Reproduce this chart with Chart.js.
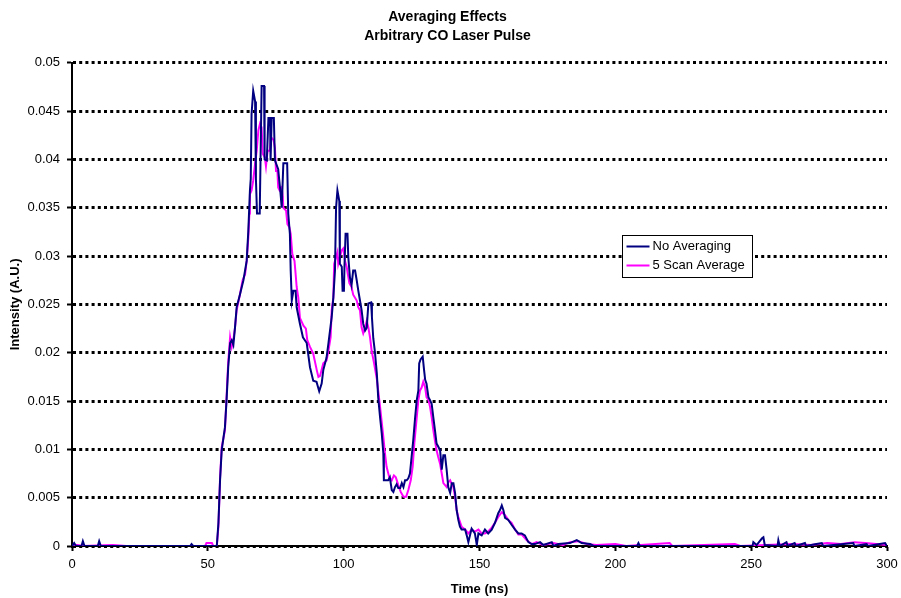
<!DOCTYPE html>
<html>
<head>
<meta charset="utf-8">
<title>Averaging Effects</title>
<script src="https://cdn.jsdelivr.net/npm/chart.js@4.4.1/dist/chart.umd.min.js"></script>
<style>
    html, body { margin: 0; padding: 0; background: #ffffff; }
    #wrap { position: relative; width: 901px; height: 598px; }
</style>
</head>
<body>
<div id="wrap"><canvas id="pulseChart" width="901" height="598"></canvas></div>
<script>
// Single scan, time (ns) and intensity (A.U.)
const rawTime = [
    0, 0.8, 1.5, 3.5, 4, 4.6, 9.5, 10, 10.6, 43.5, 44, 44.6, 53.3,
    53.9, 54.5, 55.1, 56.3, 56.9, 57.5, 58.2, 58.8, 59.4, 60, 60.6, 61.8, 63.1, 64.3, 64.9, 65.5, 65.8,
    66.1, 66.7, 67.4, 67.7, 68.1, 69.1, 69.4, 69.8, 70.7, 70.9, 71.7, 72.3, 72.9, 73.1, 73.5, 74.3,
    74.7, 75.9, 76.3, 76.6, 77.2, 77.8, 79.2, 79.6, 80.2, 80.5, 80.9, 81.5, 82.3, 82.7, 83.9, 85,
    86.4, 87.6, 88.8, 90, 91, 91.9, 92.5, 93.7, 94.4, 95.6, 96.2, 96.8, 97.2, 97.7, 98.4, 98.6,
    99.3, 99.6, 100.1, 100.3, 100.7, 101.4, 101.7, 102.3, 102.9, 103.5, 104.2, 104.8, 105.4, 106,
    106.6, 107.2, 107.9, 108.5, 109.1, 110.1, 110.4, 110.9, 111.5, 112.2, 112.7, 113.4, 114, 114.6,
    114.8, 116.4, 117, 117.7, 118.3, 118.9, 119.5, 120.1, 120.8, 121.4, 122, 122.6, 123.2, 123.8,
    124.4, 125, 125.6, 126.3, 126.9, 127.5, 127.8, 128.3, 129.1, 129.6, 130, 130.5, 131.2, 131.8,
    132.4, 133, 133.6, 134.2, 134.8, 135.5, 136.1, 136.7, 137.3, 137.9, 138.5, 139.2, 139.8, 140.4,
    141, 141.6, 142.2, 142.8, 143.4, 144.7, 145.3, 145.9, 146.5, 147.1, 148.3, 149, 149.6, 150.8,
    152, 153.2, 154.5, 155.7, 156.9, 157.5, 158.2, 158.8, 159.4, 160.6, 161.8, 163.1, 164.3, 165.5,
    166.7, 168, 169.2, 170.4, 172.3, 173.5, 176.6, 177.2, 179, 183.3, 185.8, 187.6, 190.7, 192,
    208, 208.5, 209, 250.5, 250.8, 252, 254, 254.5, 255, 259.7, 260, 260.5, 263, 263.5, 266, 266.5,
    269.8, 270.2, 274, 276, 276.5, 287.6, 288, 292.5, 293, 299.3, 300
];
const rawIntensity = [
    0, 0.0003, 0, 0, 0.0005, 0, 0, 0.0005, 0, 0, 0.0002, 0, 0,
    0.0024, 0.0068, 0.0099, 0.0123, 0.0151, 0.0185, 0.021, 0.0213, 0.0208, 0.0226, 0.0247, 0.026, 0.0275, 0.0295, 0.0326, 0.0368, 0.038,
    0.0447, 0.0471, 0.046, 0.038, 0.0344, 0.0344, 0.040, 0.0476, 0.0476, 0.040, 0.0399, 0.0443, 0.0443, 0.0399, 0.0443, 0.0443,
    0.0399, 0.039, 0.0378, 0.037, 0.035, 0.0396, 0.0396, 0.0344, 0.0323, 0.0285, 0.0254, 0.0264, 0.0264, 0.0247, 0.023, 0.0216,
    0.021, 0.0185, 0.0171, 0.017, 0.016, 0.0168, 0.0182, 0.0195, 0.021, 0.0237, 0.0257, 0.0285, 0.035, 0.0368, 0.0357, 0.0292,
    0.0289, 0.0264, 0.0264, 0.029, 0.0323, 0.0323, 0.0299, 0.0278, 0.027, 0.0285, 0.0285, 0.0275, 0.0264, 0.0254,
    0.0244, 0.023, 0.0223, 0.0226, 0.0251, 0.0252, 0.0237, 0.0215, 0.0201, 0.0179, 0.0154, 0.0133, 0.0117, 0.0096,
    0.0068, 0.0068, 0.0071, 0.0058, 0.0056, 0.0061, 0.0064, 0.006, 0.006, 0.0065, 0.0061, 0.0068, 0.0068, 0.007,
    0.0075, 0.0092, 0.0109, 0.0133, 0.0151, 0.0161, 0.0189, 0.0193, 0.0196, 0.0182, 0.0172, 0.0168, 0.0154, 0.0151,
    0.0147, 0.0133, 0.012, 0.0106, 0.0103, 0.0099, 0.0079, 0.0094, 0.0094, 0.0079, 0.0061, 0.0055, 0.0065, 0.0065,
    0.0055, 0.0037, 0.0027, 0.002, 0.0017, 0.0017, 0.0011, 0.0004, 0.0011, 0.0018, 0.0013, 0.0001, 0.0013, 0.0011,
    0.0017, 0.0013, 0.0017, 0.0024, 0.0034, 0.0037, 0.0042, 0.0037, 0.0029, 0.0027, 0.0022, 0.0017, 0.0013, 0.0013,
    0.0011, 0.0004, 0.0002, 0.0002, 0.0004, 0.0001, 0.0004, 0, 0.0002, 0.0003, 0.0006, 0.0003, 0.0002, 0,
    0, 0.0003, 0, 0, 0.0004, 0.0001, 0.0008, 0.0009, 0.0001, 0, 0.0006, 0, 0.0004, 0, 0.0003, 0,
    0.0003, 0, 0.0002, 0.0003, 0, 0.0003, 0, 0.0002, 0, 0.0003, 0
];

// Five scan average
const avgTime = [
    0, 2, 4, 15, 20, 49, 49.5, 51.5, 52, 53.3,
    53.9, 54.5, 55.1, 56.3, 56.9, 57.5, 58.2, 58.8, 59.4, 60, 60.6, 61.8, 62.8, 63.7, 64.3, 64.9, 65.3,
    65.5, 66.1, 66.7, 67.4, 68, 68.6, 69.2, 69.8, 70.2, 71, 71.4, 72, 72.8, 73.3, 74.2, 74.7, 75.1,
    75.6, 75.9, 76.4, 77.2, 77.6, 77.8, 78.8, 79.3, 80, 80.5, 81.1, 81.9, 82.3, 82.7, 83.3, 83.9,
    85.2, 86.1, 86.6, 87.6, 88.8, 90.1, 90.7, 91.3, 92.5, 93.7, 94.4, 95.2, 95.6, 96.2, 96.5, 97.2,
    97.7, 98, 98.6, 99.3, 99.9, 100.5, 101.1, 101.5, 102.1, 102.9, 103.5, 104.8, 105.4, 106, 106.6,
    107.2, 107.9, 108.5, 109.1, 109.7, 110.3, 111.2, 112.2, 113.4, 114.6, 115.2, 115.8, 116.8, 117.7,
    118.5, 119.2, 120.1, 121, 122, 123, 123.8, 124.7, 125.4, 126, 126.9, 127.5, 128.1, 128.7, 129.3,
    130, 130.5, 131.2, 131.8, 132.4, 133, 133.6, 134.2, 134.8, 135.5, 136.1, 136.7, 137.9, 138.5,
    139.2, 139.8, 140.4, 141, 141.6, 142.2, 142.8, 143.4, 144.7, 145.9, 147.1, 148.3, 149.6, 150.8,
    152, 153.2, 154.5, 155.7, 156.9, 158.2, 159.4, 160.6, 161.8, 163.1, 164.3, 165.5, 167.4, 169.2,
    171, 173.4, 177.1, 180.8, 183.3, 186.4, 189.5, 193, 200, 204, 220, 221, 244, 246, 265, 272,
    278, 283, 288, 292, 296, 300
];
const avgIntensity = [
    0.0001, 0.0001, 0, 0.0001, 0, 0, 0.0003, 0.0003, 0, 0,
    0.002, 0.007, 0.0102, 0.012, 0.0155, 0.019, 0.0216, 0.0206, 0.0213, 0.0226, 0.0244, 0.026, 0.0275, 0.0281, 0.0295, 0.0319, 0.0344,
    0.0364, 0.0368, 0.0378, 0.0396, 0.0409, 0.043, 0.0437, 0.0433, 0.0406, 0.0402, 0.0393, 0.0409, 0.0409, 0.0423, 0.042, 0.0412, 0.0388,
    0.0388, 0.0371, 0.0368, 0.0371, 0.0361, 0.035, 0.0347, 0.0333, 0.033, 0.0323, 0.0302, 0.0295, 0.0282, 0.0268, 0.0257, 0.0236,
    0.0228, 0.0225, 0.0213, 0.0206, 0.0199, 0.0182, 0.0175, 0.0176, 0.0189, 0.0192, 0.0202, 0.0216, 0.0244, 0.0257, 0.0292, 0.0299,
    0.0304, 0.0292, 0.0299, 0.0306, 0.0308, 0.0295, 0.0289, 0.0282, 0.0272, 0.0268, 0.026, 0.0254, 0.0247, 0.0244, 0.0226,
    0.022, 0.0226, 0.0233, 0.0226, 0.0216, 0.0202, 0.0189, 0.0173, 0.0144, 0.0113, 0.0096, 0.0082, 0.0071, 0.0068,
    0.0073, 0.0071, 0.0063, 0.0056, 0.0051, 0.0051, 0.0058, 0.0068, 0.0082, 0.0106, 0.0133, 0.0151, 0.0161, 0.0164, 0.017,
    0.0164, 0.0154, 0.0151, 0.0144, 0.0133, 0.012, 0.0109, 0.0099, 0.0092, 0.0085, 0.0075, 0.0065, 0.0061, 0.0066,
    0.0068, 0.0064, 0.0061, 0.0051, 0.0037, 0.003, 0.0025, 0.002, 0.0017, 0.0013, 0.0017, 0.0015, 0.0017, 0.0013,
    0.0013, 0.0015, 0.0019, 0.0024, 0.003, 0.0035, 0.0032, 0.0027, 0.0024, 0.0017, 0.0012, 0.0012, 0.0006, 0.0002,
    0.0004, 0.0001, 0.0003, 0.0001, 0.0004, 0.0005, 0.0002, 0.0001, 0.0002, 0, 0.0003, 0, 0.0002, 0, 0.0002, 0.0001,
    0.0003, 0.0002, 0.0004, 0.0003, 0.0002, 0.0001
];

const seriesNames = ['No Averaging', '5 Scan Average'];
const seriesColors = ['#000080', '#ff00ff'];
const yTickValues = [0, 0.005, 0.01, 0.015, 0.02, 0.025, 0.03, 0.035, 0.04, 0.045, 0.05];
const xTickValues = [0, 50, 100, 150, 200, 250, 300];

const FONT = '"Liberation Sans", Arial, sans-serif';

function toPoints(xs, ys) {
    return xs.map(function (x, i) { return { x: x, y: ys[i] }; });
}

// Boxed legend sitting inside the plot, right of the second peak
const boxLegend = {
    id: 'boxLegend',
    afterDatasetsDraw: function (chart) {
        const ctx = chart.ctx;
        const area = chart.chartArea;
        const left = Math.round(area.left + (area.right - area.left) * 0.675) + 0.5;
        const top = Math.round(area.top + (area.bottom - area.top) * 0.357) + 0.5;
        const w = 130, h = 42;
        ctx.save();
        ctx.fillStyle = '#ffffff';
        ctx.fillRect(left, top, w, h);
        ctx.strokeStyle = '#000000';
        ctx.lineWidth = 1;
        ctx.strokeRect(left, top, w, h);
        ctx.font = '13px ' + FONT;
        ctx.textBaseline = 'middle';
        seriesNames.forEach(function (name, i) {
            const y = top + 11 + i * 19;
            ctx.strokeStyle = seriesColors[i];
            ctx.lineWidth = 2;
            ctx.beginPath();
            ctx.moveTo(left + 4, y);
            ctx.lineTo(left + 27, y);
            ctx.stroke();
            ctx.fillStyle = '#000000';
            ctx.fillText(name, left + 30, y);
        });
        ctx.restore();
    }
};

new Chart(document.getElementById('pulseChart'), {
    type: 'line',
    data: {
        datasets: [
            {
                label: seriesNames[0],
                data: toPoints(rawTime, rawIntensity),
                borderColor: seriesColors[0],
                borderWidth: 2,
                pointRadius: 0,
                tension: 0,
                fill: false
            },
            {
                label: seriesNames[1],
                data: toPoints(avgTime, avgIntensity),
                borderColor: seriesColors[1],
                borderWidth: 2,
                pointRadius: 0,
                tension: 0,
                fill: false
            }
        ]
    },
    options: {
        responsive: false,
        animation: false,
        events: [],
        layout: { padding: { left: 8, right: 14, top: 0, bottom: 0 } },
        plugins: {
            legend: { display: false },
            tooltip: { enabled: false },
            title: {
                display: true,
                text: ['Averaging Effects', 'Arbitrary CO Laser Pulse'],
                color: '#000000',
                font: { family: FONT, size: 14, weight: 'bold', lineHeight: 1.35 },
                padding: { top: 8, bottom: 17 }
            }
        },
        scales: {
            x: {
                type: 'linear',
                min: 0,
                max: 300,
                afterBuildTicks: function (scale) {
                    scale.ticks = xTickValues.map(function (v) { return { value: v }; });
                },
                afterFit: function (scale) {
                    scale.height = 52;
                    // let the "300" label hang into the right margin
                    scale.paddingLeft = 0;
                    scale.paddingRight = 0;
                },
                ticks: {
                    color: '#000000',
                    font: { family: FONT, size: 13 },
                    padding: 6,
                    maxRotation: 0
                },
                grid: {
                    drawOnChartArea: false,
                    drawTicks: true,
                    tickLength: 5,
                    tickColor: '#000000',
                    tickWidth: 2
                },
                border: { display: true, color: '#000000', width: 2 },
                title: {
                    display: true,
                    text: 'Time (ns)',
                    color: '#000000',
                    font: { family: FONT, size: 13, weight: 'bold' },
                    padding: { top: 0, bottom: 1 }
                }
            },
            y: {
                min: 0,
                max: 0.05,
                afterBuildTicks: function (scale) {
                    scale.ticks = yTickValues.map(function (v) { return { value: v }; });
                },
                afterFit: function (scale) { scale.width = 64; },
                ticks: {
                    color: '#000000',
                    font: { family: FONT, size: 13 },
                    padding: 7,
                    callback: function (v) { return String(Number(v.toFixed(3))); }
                },
                grid: {
                    color: '#000000',
                    lineWidth: 3,
                    drawTicks: true,
                    tickLength: 5,
                    tickColor: '#000000',
                    tickWidth: 2,
                    tickBorderDash: []
                },
                border: { display: true, color: '#000000', width: 2, dash: [3, 3.2] },
                title: {
                    display: true,
                    text: 'Intensity (A.U.)',
                    color: '#000000',
                    font: { family: FONT, size: 13, weight: 'bold' },
                    padding: { top: 0, bottom: 0 }
                }
            }
        }
    },
    plugins: [boxLegend]
});
</script>
</body>
</html>
